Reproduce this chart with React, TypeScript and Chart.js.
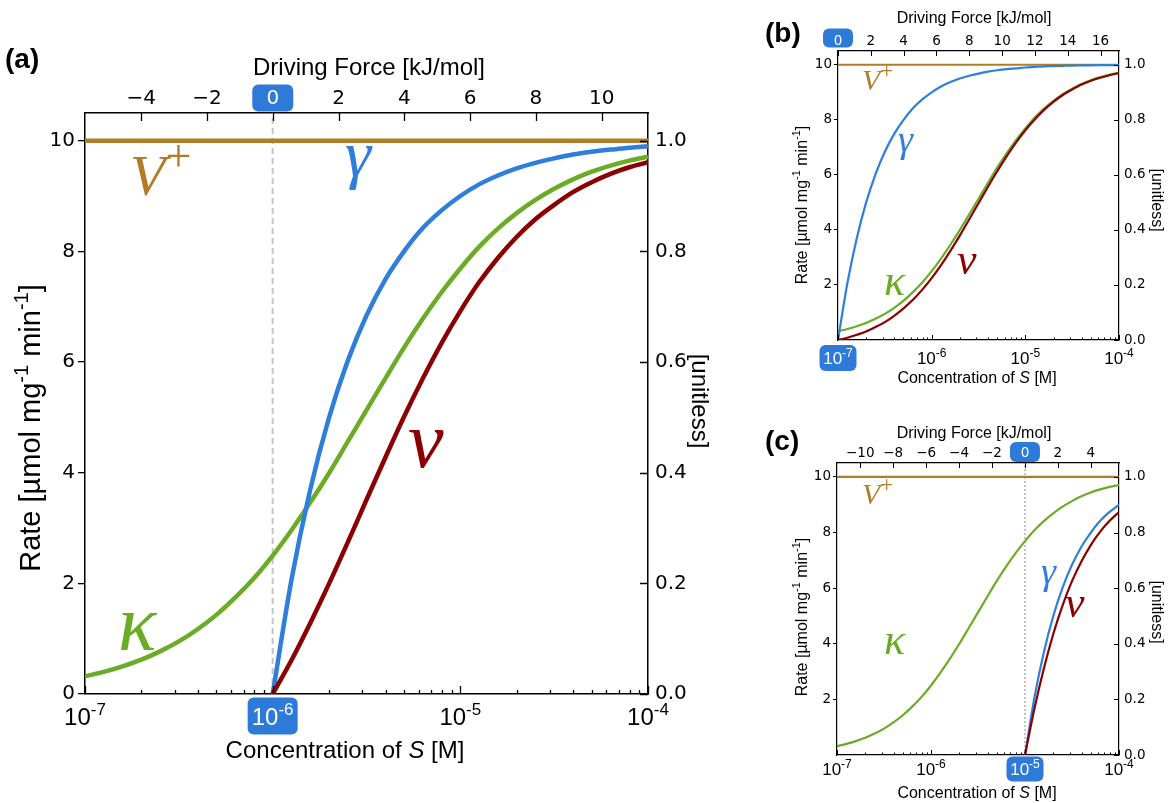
import React, { useEffect, useRef } from 'react';
import { Chart, registerables } from 'chart.js';
Chart.register(...registerables);

// ---------- data ----------
const conc = [
  1.0e-7, 1.259e-7, 1.585e-7, 1.995e-7, 2.512e-7, 3.162e-7, 3.981e-7, 5.012e-7, 6.31e-7, 7.943e-7,
  1.0e-6, 1.259e-6, 1.585e-6, 1.995e-6, 2.512e-6, 3.162e-6, 3.981e-6, 5.012e-6, 6.31e-6, 7.943e-6,
  1.0e-5, 1.259e-5, 1.585e-5, 1.995e-5, 2.512e-5, 3.162e-5, 3.981e-5, 5.012e-5, 6.31e-5, 7.943e-5,
  1.0e-4,
];
const kappa = [
  0.032, 0.040, 0.050, 0.062, 0.077, 0.095, 0.117, 0.143, 0.174, 0.209,
  0.250, 0.296, 0.346, 0.399, 0.456, 0.513, 0.570, 0.626, 0.678, 0.726,
  0.769, 0.808, 0.841, 0.869, 0.893, 0.913, 0.930, 0.944, 0.955, 0.964,
  0.971,
];
// panel (a): values from conc[10] (1e-6) on
const gammaA = [0, 0.206, 0.369, 0.499, 0.602, 0.684, 0.749, 0.8, 0.842, 0.874, 0.9, 0.921, 0.937, 0.95, 0.96, 0.968, 0.975, 0.98, 0.984, 0.987, 0.99];
const rateA = [0, 0.61, 1.28, 1.99, 2.74, 3.51, 4.27, 5.01, 5.7, 6.34, 6.92, 7.44, 7.88, 8.26, 8.58, 8.84, 9.07, 9.25, 9.4, 9.52, 9.61];
// panel (b): values from conc[0] (1e-7) on
const gammaB = [0, 0.206, 0.369, 0.499, 0.602, 0.684, 0.749, 0.8, 0.842, 0.874, 0.9, 0.921, 0.937, 0.95, 0.96, 0.968, 0.975, 0.98, 0.984, 0.987, 0.99, 0.992, 0.994, 0.995, 0.996, 0.997, 0.9975, 0.998, 0.9984, 0.9987, 0.999];
const rateB = [0, 0.08, 0.19, 0.31, 0.47, 0.65, 0.88, 1.15, 1.46, 1.83, 2.25, 2.72, 3.24, 3.79, 4.38, 4.97, 5.56, 6.13, 6.67, 7.17, 7.62, 8.01, 8.36, 8.65, 8.9, 9.1, 9.28, 9.42, 9.53, 9.62, 9.7];
// panel (c): values from conc[20] (1e-5) on
const gammaC = [0, 0.206, 0.369, 0.499, 0.602, 0.684, 0.749, 0.8, 0.842, 0.874, 0.9];
const rateC = [0, 1.66, 3.1, 4.34, 5.38, 6.25, 6.96, 7.55, 8.03, 8.42, 8.74];

const vPlus = 10;
const rateTicksA = [0, 2, 4, 6, 8, 10];
const rateTicksBC = [2, 4, 6, 8, 10];
const unitTicks = [0, 0.2, 0.4, 0.6, 0.8, 1.0];
const concTicks = [1e-7, 1e-6, 1e-5, 1e-4];
const concExp = ['-7', '-6', '-5', '-4'];
const dfTicksA = [-4, -2, 0, 2, 4, 6, 8, 10];
const dfTicksB = [0, 2, 4, 6, 8, 10, 12, 14, 16];
const dfTicksC = [-10, -8, -6, -4, -2, 0, 2, 4];
const dfRangeA = [-5.71, 11.41];
const dfRangeB = [0, 17.12];
const dfRangeC = [-11.41, 5.71];

// ---------- styles ----------
const GOLD = '#b07d26';
const BLUE = '#2e7fdc';
const GREEN = '#6bac26';
const RED = '#8b0000';
const BOX = '#2d7ad9';
const SANS = '"Liberation Sans", Arial, sans-serif';
const DV = 'DejaVu Sans';
const SERIF = '"Liberation Serif", serif';

type Seg = { t: string; f: string; dy?: number };

function drawRich(ctx: CanvasRenderingContext2D, segs: Seg[], x: number, y: number, align: 'center' | 'left', rot: number, color: string) {
  ctx.save();
  ctx.translate(x, y);
  ctx.rotate(rot);
  ctx.textAlign = 'left';
  ctx.textBaseline = 'alphabetic';
  ctx.fillStyle = color;
  let w = 0;
  const ws = segs.map((s) => {
    ctx.font = s.f;
    const m = ctx.measureText(s.t).width;
    w += m;
    return m;
  });
  let cx = align === 'center' ? -w / 2 : 0;
  segs.forEach((s, i) => {
    ctx.font = s.f;
    ctx.fillText(s.t, cx, s.dy || 0);
    cx += ws[i];
  });
  ctx.restore();
}

function roundRect(ctx: CanvasRenderingContext2D, x: number, y: number, w: number, h: number, r: number, fill: string) {
  ctx.beginPath();
  ctx.moveTo(x + r, y);
  ctx.arcTo(x + w, y, x + w, y + h, r);
  ctx.arcTo(x + w, y + h, x, y + h, r);
  ctx.arcTo(x, y + h, x, y, r);
  ctx.arcTo(x, y, x + w, y, r);
  ctx.closePath();
  ctx.fillStyle = fill;
  ctx.fill();
}

type Label = { segs: Seg[]; x: number; y: number; color: string };

type Panel = {
  key: string;
  ox: number; oy: number; w: number; h: number;
  fit: { l: number; r: number; t: number; b: number };
  s0: number;
  df: number[];
  dfTicks: number[];
  rateTicks: number[];
  gamma: number[];
  rate: number[];
  gStart: number;
  tick: number;
  lw: number;
  aw: number;
  tw: number;
  outLen: number;
  inMaj: number;
  inMin: number;
  leftPad: number;
  rightPad: number;
  topPad: number;
  title: number;
  rateSize: number;
  dfTitle: number[];
  rateTitle: number[];
  unitTitle: number[];
  concTitle: number[];
  bot: { size: number; sup: number; cy: number; bw: number; bh: number };
  topBox: { w: number; h: number; cy: number };
  ref: null | { color: string; width: number; dash: number[] };
  labels: Label[];
  tag: { t: string; x: number; y: number; size: number };
};

const panels: Panel[] = [
  {
    key: 'a', ox: 0, oy: 0, w: 760, h: 803,
    fit: { l: 85, r: 112, t: 113, b: 109 },
    s0: 1e-6, df: dfRangeA, dfTicks: dfTicksA, rateTicks: rateTicksA,
    gamma: gammaA, rate: rateA, gStart: 10,
    tick: 20, lw: 4.5, aw: 1.5, tw: 1.3, outLen: 7, inMaj: 8, inMin: 4,
    leftPad: 3, rightPad: 7, topPad: 2, title: 24, rateSize: 29,
    dfTitle: [369, 66], rateTitle: [31, 428], unitTitle: [701, 401], concTitle: [345, 749],
    bot: { size: 24, sup: 17, cy: 716, bw: 50, bh: 37 },
    topBox: { w: 41, h: 27, cy: 98 },
    ref: { color: '#c4c4c4', width: 2, dash: [6, 4] },
    labels: [
      { segs: [{ t: 'V', f: `italic 58px ${SERIF}` }, { t: '+', f: `46px ${SERIF}`, dy: -24 }], x: 130, y: 195, color: GOLD },
      { segs: [{ t: 'γ', f: `italic 66px ${SERIF}` }], x: 345, y: 176, color: BLUE },
      { segs: [{ t: 'v', f: `italic 80px ${SERIF}` }], x: 408, y: 467, color: RED },
      { segs: [{ t: 'κ', f: `italic 80px ${SERIF}` }], x: 118, y: 650, color: GREEN },
    ],
    tag: { t: '(a)', x: 5, y: 68, size: 28 },
  },
  {
    key: 'b', ox: 760, oy: 0, w: 411, h: 400,
    fit: { l: 78, r: 52, t: 51, b: 60 },
    s0: 1e-7, df: dfRangeB, dfTicks: dfTicksB, rateTicks: rateTicksBC,
    gamma: gammaB, rate: rateB, gStart: 0,
    tick: 13.5, lw: 2.2, aw: 1.2, tw: 1, outLen: 4, inMaj: 5, inMin: 2.5,
    leftPad: 2, rightPad: 5, topPad: 1, title: 16, rateSize: 16,
    dfTitle: [974, 17], rateTitle: [802, 205], unitTitle: [1158, 200], concTitle: [977, 377],
    bot: { size: 17, sup: 12, cy: 358, bw: 37, bh: 26 },
    topBox: { w: 30, h: 19, cy: 38 },
    ref: null,
    labels: [
      { segs: [{ t: 'V', f: `italic 30px ${SERIF}` }, { t: '+', f: `23px ${SERIF}`, dy: -12 }], x: 862, y: 90, color: GOLD },
      { segs: [{ t: 'γ', f: `italic 38px ${SERIF}` }], x: 898, y: 152, color: BLUE },
      { segs: [{ t: 'v', f: `italic 44px ${SERIF}` }], x: 957, y: 274, color: RED },
      { segs: [{ t: 'κ', f: `italic 44px ${SERIF}` }], x: 884, y: 295, color: GREEN },
    ],
    tag: { t: '(b)', x: 765, y: 42, size: 28 },
  },
  {
    key: 'c', ox: 760, oy: 410, w: 411, h: 393,
    fit: { l: 77, r: 52, t: 53, b: 48 },
    s0: 1e-5, df: dfRangeC, dfTicks: dfTicksC, rateTicks: rateTicksBC,
    gamma: gammaC, rate: rateC, gStart: 20,
    tick: 13.5, lw: 2.2, aw: 1.2, tw: 1, outLen: 4, inMaj: 5, inMin: 2.5,
    leftPad: 2, rightPad: 5, topPad: 1, title: 16, rateSize: 16,
    dfTitle: [974, 432], rateTitle: [802, 617], unitTitle: [1158, 612], concTitle: [977, 792],
    bot: { size: 17, sup: 12, cy: 769, bw: 37, bh: 25 },
    topBox: { w: 30, h: 20, cy: 452 },
    ref: { color: '#8a8a8a', width: 1, dash: [2, 2] },
    labels: [
      { segs: [{ t: 'V', f: `italic 30px ${SERIF}` }, { t: '+', f: `23px ${SERIF}`, dy: -12 }], x: 862, y: 504, color: GOLD },
      { segs: [{ t: 'κ', f: `italic 44px ${SERIF}` }], x: 884, y: 654, color: GREEN },
      { segs: [{ t: 'γ', f: `italic 38px ${SERIF}` }], x: 1041, y: 584, color: BLUE },
      { segs: [{ t: 'v', f: `italic 44px ${SERIF}` }], x: 1065, y: 617, color: RED },
    ],
    tag: { t: '(c)', x: 765, y: 450, size: 28 },
  },
];

function fmtDF(v: number) {
  return v < 0 ? '\u2212' + Math.abs(v) : String(v);
}

function makeChart(canvas: HTMLCanvasElement, p: Panel) {
  const ox = p.ox;
  const oy = p.oy;
  const gammaPts = p.gamma.map((g, i) => ({ x: conc[p.gStart + i], y: g }));
  const ratePts = p.rate.map((r, i) => ({ x: conc[p.gStart + i], y: r }));
  const kappaPts = kappa.map((k, i) => ({ x: conc[i], y: k }));
  const vPts = [{ x: conc[0], y: vPlus }, { x: conc[conc.length - 1], y: vPlus }];
  const refPts = p.ref ? [{ x: p.s0, y: 0 }, { x: p.s0, y: 10.5 }] : [];
  const base = { pointRadius: 0, borderWidth: p.lw, fill: false, cubicInterpolationMode: 'monotone' as const, xAxisID: 'x' };

  const plugin = {
    id: 'decor_' + p.key,
    beforeDraw(chart: any) {
      const ctx: CanvasRenderingContext2D = chart.ctx;
      const xt = chart.scales.xTop;
      const px = xt.getPixelForValue(0);
      roundRect(ctx, px - p.topBox.w / 2, p.topBox.cy - oy - p.topBox.h / 2, p.topBox.w, p.topBox.h, 6, BOX);
    },
    afterDraw(chart: any) {
      const ctx: CanvasRenderingContext2D = chart.ctx;
      const a = chart.chartArea;
      const xs = chart.scales.x;
      const xt = chart.scales.xTop;
      const y1 = chart.scales.y1;
      ctx.save();
      ctx.strokeStyle = '#000';
      ctx.lineWidth = p.tw;
      ctx.beginPath();
      // bottom inward ticks (major + minor)
      concTicks.forEach((d, i) => {
        const px = Math.round(xs.getPixelForValue(d)) + 0.5;
        ctx.moveTo(px, a.bottom);
        ctx.lineTo(px, a.bottom - p.inMaj);
        if (i < concTicks.length - 1) {
          for (let m = 2; m <= 9; m++) {
            const q = Math.round(xs.getPixelForValue(d * m)) + 0.5;
            ctx.moveTo(q, a.bottom);
            ctx.lineTo(q, a.bottom - p.inMin);
          }
        }
      });
      // top inward ticks
      p.dfTicks.forEach((v) => {
        const px = Math.round(xt.getPixelForValue(v)) + 0.5;
        ctx.moveTo(px, a.top);
        ctx.lineTo(px, a.top + p.inMaj);
      });
      // right inward ticks
      unitTicks.forEach((v) => {
        const py = Math.round(y1.getPixelForValue(v)) + 0.5;
        ctx.moveTo(a.right, py);
        ctx.lineTo(a.right - p.inMaj, py);
      });
      ctx.stroke();
      ctx.restore();

      // bottom tick labels
      concTicks.forEach((d, i) => {
        const px = xs.getPixelForValue(d);
        const cy = p.bot.cy - oy;
        let color = '#000';
        if (d === p.s0) {
          roundRect(ctx, px - p.bot.bw / 2, cy - p.bot.bh / 2, p.bot.bw, p.bot.bh, 6, BOX);
          color = '#fff';
        }
        drawRich(ctx, [
          { t: '10', f: `${p.bot.size}px ${SANS}` },
          { t: concExp[i], f: `${p.bot.sup}px ${SANS}`, dy: -0.42 * p.bot.size },
        ], px, cy + 0.36 * p.bot.size, 'center', 0, color);
      });

      // axis titles
      const T = p.title;
      drawRich(ctx, [{ t: 'Driving Force [kJ/mol]', f: `${T}px ${SANS}` }], p.dfTitle[0] - ox, p.dfTitle[1] - oy + 0.36 * T, 'center', 0, '#000');
      drawRich(ctx, [
        { t: 'Concentration of ', f: `${T}px ${SANS}` },
        { t: 'S', f: `italic ${T}px ${SANS}` },
        { t: ' [M]', f: `${T}px ${SANS}` },
      ], p.concTitle[0] - ox, p.concTitle[1] - oy + 0.36 * T, 'center', 0, '#000');
      const R = p.rateSize;
      const sup = Math.round(R * 0.7);
      ctx.save();
      ctx.translate(p.rateTitle[0] - ox, p.rateTitle[1] - oy);
      ctx.rotate(-Math.PI / 2);
      drawRich(ctx, [
        { t: 'Rate [\u00b5mol mg', f: `${R}px ${SANS}` },
        { t: '-1', f: `${sup}px ${SANS}`, dy: -0.4 * R },
        { t: ' min', f: `${R}px ${SANS}` },
        { t: '-1', f: `${sup}px ${SANS}`, dy: -0.4 * R },
        { t: ']', f: `${R}px ${SANS}` },
      ], 0, 0.3 * R, 'center', 0, '#000');
      ctx.restore();
      ctx.save();
      ctx.translate(p.unitTitle[0] - ox, p.unitTitle[1] - oy);
      ctx.rotate(Math.PI / 2);
      drawRich(ctx, [{ t: '[unitless]', f: `${T}px ${SANS}` }], 0, 0.36 * T, 'center', 0, '#000');
      ctx.restore();

      // curve labels
      p.labels.forEach((l) => drawRich(ctx, l.segs, l.x - ox, l.y - oy, 'left', 0, l.color));

      // panel tag
      drawRich(ctx, [{ t: p.tag.t, f: `bold ${p.tag.size}px ${SANS}` }], p.tag.x - ox, p.tag.y - oy, 'left', 0, '#000');
    },
  };

  return new Chart(canvas, {
    type: 'line',
    data: {
      datasets: [
        { ...base, label: 'v', data: ratePts, yAxisID: 'y', borderColor: RED },
        { ...base, label: 'γ', data: gammaPts, yAxisID: 'y1', borderColor: BLUE },
        { ...base, label: 'κ', data: kappaPts, yAxisID: 'y1', borderColor: GREEN },
        { ...base, label: 'V+', data: vPts, yAxisID: 'y', borderColor: GOLD, cubicInterpolationMode: 'default' as const },
        {
          ...base, label: 'ref', data: refPts, yAxisID: 'y',
          borderColor: p.ref ? p.ref.color : '#fff', borderWidth: p.ref ? p.ref.width : 0,
          borderDash: p.ref ? p.ref.dash : [], cubicInterpolationMode: 'default' as const,
        },
      ],
    },
    options: {
      animation: false,
      responsive: false,
      devicePixelRatio: 1,
      events: [],
      layout: { padding: 0 },
      plugins: { legend: { display: false }, tooltip: { enabled: false } },
      scales: {
        x: {
          type: 'logarithmic', position: 'bottom', min: 1e-7, max: 1e-4,
          ticks: { display: false },
          grid: { display: false, drawTicks: false },
          border: { display: true, color: '#000', width: p.aw },
          afterFit: (s: any) => { s.height = p.fit.b; },
        },
        xTop: {
          type: 'linear', axis: 'x', position: 'top', min: p.df[0], max: p.df[1],
          afterBuildTicks: (s: any) => { s.ticks = p.dfTicks.map((v) => ({ value: v })); },
          ticks: {
            autoSkip: false, maxRotation: 0, padding: p.topPad,
            font: { family: DV, size: p.tick },
            color: (c: any) => (c.tick && c.tick.value === 0 ? '#ffffff' : '#000000'),
            callback: (v: any) => fmtDF(Number(v)),
          },
          grid: { display: false, drawTicks: false },
          border: { display: true, color: '#000', width: p.aw },
          afterFit: (s: any) => { s.height = p.fit.t; },
        },
        y: {
          type: 'linear', position: 'left', min: 0, max: 10.5,
          afterBuildTicks: (s: any) => { s.ticks = p.rateTicks.map((v) => ({ value: v })); },
          ticks: { padding: p.leftPad, font: { family: DV, size: p.tick }, color: '#000', callback: (v: any) => String(v) },
          grid: { display: true, drawOnChartArea: false, drawTicks: true, tickLength: p.outLen, color: '#000', lineWidth: p.tw },
          border: { display: true, color: '#000', width: p.aw },
          afterFit: (s: any) => { s.width = p.fit.l; },
        },
        y1: {
          type: 'linear', position: 'right', min: 0, max: 1.05,
          afterBuildTicks: (s: any) => { s.ticks = unitTicks.map((v) => ({ value: v })); },
          ticks: { padding: p.rightPad, font: { family: DV, size: p.tick }, color: '#000', callback: (v: any) => Number(v).toFixed(1) },
          grid: { display: false, drawTicks: false },
          border: { display: true, color: '#000', width: p.aw },
          afterFit: (s: any) => { s.width = p.fit.r; },
        },
      },
    } as any,
    plugins: [plugin],
  });
}

function PanelCanvas({ p }: { p: Panel }) {
  const ref = useRef<HTMLCanvasElement | null>(null);
  useEffect(() => {
    if (!ref.current) return;
    const ch = makeChart(ref.current, p);
    return () => ch.destroy();
  }, [p]);
  return (
    <canvas
      ref={ref}
      width={p.w}
      height={p.h}
      style={{ position: 'absolute', left: p.ox, top: p.oy, width: p.w, height: p.h }}
    />
  );
}

export default function App() {
  return (
    <div style={{ position: 'absolute', left: 0, top: 0, width: 1171, height: 803, background: '#fff', overflow: 'hidden' }}>
      {panels.map((p) => (
        <PanelCanvas key={p.key} p={p} />
      ))}
    </div>
  );
}
